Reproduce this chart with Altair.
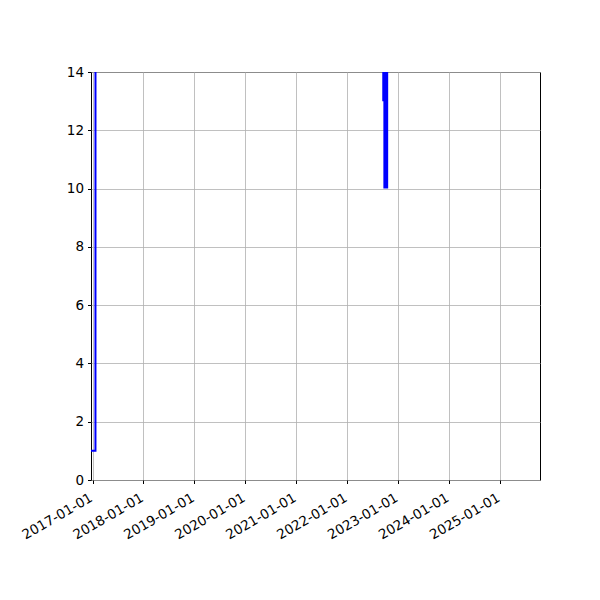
import altair as alt
import pandas as pd

# series (values above 14 are clipped off the top)
dates = [
    "2016-12-21", "2017-01-22", "2017-01-23",
    "2022-09-16", "2022-09-17", "2022-09-18",
    "2022-09-24", "2022-09-25", "2022-09-27", "2022-09-29", "2022-10-01",
    "2022-10-03", "2022-10-05", "2022-10-07", "2022-10-09", "2022-10-11",
    "2022-10-13", "2022-10-15", "2022-10-16",
]
values = [
    1, 1, 60,
    60, 13, 60,
    60, 10, 60, 10, 60,
    10, 60, 10, 60, 10,
    60, 10, 60,
]
tick_years = [2017, 2018, 2019, 2020, 2021, 2022, 2023, 2024, 2025]
y_ticks = [0, 2, 4, 6, 8, 10, 12, 14]

df = pd.DataFrame({"date": dates, "value": values})

font = "DejaVu Sans"

x_enc = alt.X(
    "date:T",
    scale=alt.Scale(
        type="utc",
        domain=[
            alt.DateTime(year=2016, month=12, date=21, utc=True),
            alt.DateTime(year=2025, month=10, date=15, utc=True),
        ],
        nice=False,
    ),
    axis=alt.Axis(
        values=[alt.DateTime(year=y, month=1, date=1, utc=True) for y in tick_years],
        labelExpr="utcFormat(datum.value, '%Y-%m-%d')",
        labelAngle=330,
        labelAlign="right",
        labelBaseline="top",
        labelPadding=7,
        labelOffset=-5,
        title=None,
        grid=True,
        gridColor="#b0b0b0",
        gridWidth=0.8,
        domain=False,
        tickColor="black",
        tickSize=3.5,
        labelFont=font,
        labelFontSize=13.5,
        labelColor="black",
        labelFlush=False,
        labelOverlap=False,
    ),
)

y_enc = alt.Y(
    "value:Q",
    scale=alt.Scale(domain=[0, 14], nice=False, zero=False),
    axis=alt.Axis(
        values=y_ticks,
        title=None,
        grid=True,
        gridColor="#b0b0b0",
        gridWidth=0.8,
        domain=False,
        tickColor="black",
        tickSize=3.5,
        labelPadding=4,
        labelFont=font,
        labelFontSize=13.5,
        labelColor="black",
        labelFlush=False,
    ),
)

chart = (
    alt.Chart(df)
    .mark_line(color="#0000ff", strokeWidth=2, clip=True)
    .encode(x=x_enc, y=y_enc)
    .properties(
        width=449,
        height=408,
        autosize=alt.AutoSizeParams(type="none"),
        padding={"left": 83, "top": 64, "right": 52, "bottom": 112},
        background="white",
    )
    .configure_view(stroke="black", strokeWidth=1)
)

chart.save("out.html", embed_options={"renderer": "svg", "actions": False})
